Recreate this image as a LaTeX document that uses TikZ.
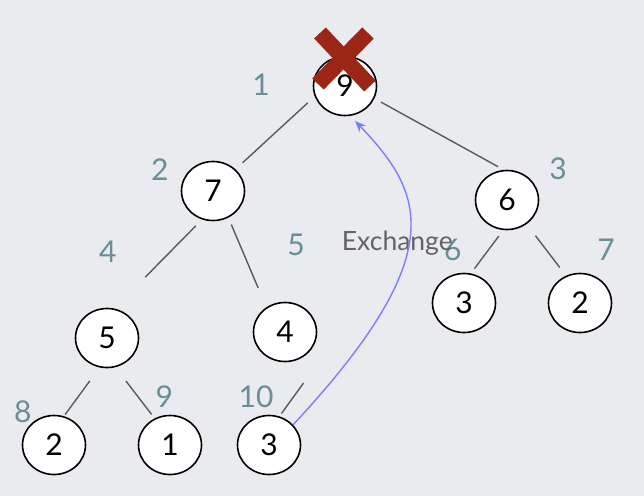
\documentclass[tikz,border=0pt]{standalone}
\usepackage{fontspec}
\setmainfont{Lato}
\usepackage{tikz}
\usetikzlibrary{shapes.geometric,arrows.meta}
\definecolor{indexcolor}{RGB}{106,142,150}
\definecolor{branchcolor}{RGB}{90,90,90}
\definecolor{arrowcolor}{RGB}{125,125,255}
\definecolor{crosscolor}{RGB}{155,38,22}
\definecolor{wordcolor}{RGB}{100,100,100}
\definecolor{backcolor}{RGB}{233,235,239}
\newcommand{\keysize}{\fontsize{30}{36}\selectfont}
\newcommand{\thickness}{1.6pt}
\tikzset{
heapnode/.style={draw, ellipse, fill=white, line width=\thickness, minimum width=63pt, minimum height=59pt, inner sep=0pt, font=\keysize},
heaplabel/.style={text=indexcolor, font=\keysize, inner sep=0pt},
branch/.style={branchcolor, line width=1.4pt},
exchangearrow/.style={arrowcolor, line width=1.4pt, -{Stealth[length=11pt, width=9pt]}, shorten >=7pt}
}

\begin{document}
\begin{tikzpicture}[x=1pt, y=-1pt]
\fill[backcolor] (0,0) rectangle (644,496);
\useasboundingbox (0,0) rectangle (644,496);
\node[heapnode] (1) at (345, 86) {9};
\node[heapnode] (2) at (213, 191) {7};
\node[heapnode] (3) at (507, 200) {6};
\node[heapnode] (4) at (107, 338) {5};
\node[heapnode] (5) at (285, 332) {4};
\node[heapnode] (6) at (464, 303) {3};
\node[heapnode] (7) at (580, 303) {2};
\node[heapnode] (8) at (54, 445) {2};
\node[heapnode] (9) at (170, 445) {1};
\node[heapnode] (10) at (269, 445) {3};
%indices
\node[heaplabel] (l1) at (261, 84.5) {1};
\node[heaplabel] (l2) at (159.7, 169.5) {2};
\node[heaplabel] (l3) at (558, 169) {3};
\node[heaplabel] (l4) at (107.7, 251.7) {4};
\node[heaplabel] (l5) at (296, 245) {5};
\node[heaplabel] (l6) at (452.7, 250) {6};
\node[heaplabel] (l7) at (606, 250) {7};
\node[heaplabel] (l8) at (22.7, 411.7) {8};
\node[heaplabel] (l9) at (164.3, 396.7) {9};
\node[heaplabel] (l10) at (256, 396.7) {10};
%branches
\draw[branch, shorten <=9.4pt, shorten >=9.7pt] (1.199) -- (2.44);
\draw[branch, shorten <=7.4pt, shorten >=6.6pt] (1.337) -- (3.96);
\draw[branch, shorten <=8.8pt, shorten >=44pt] (2.249) -- (4.76);
\draw[branch, shorten <=7.5pt, shorten >=21pt] (2.300) -- (5.127);
\draw[branch, shorten <=7.5pt, shorten >=6pt] (3.263) -- (6.77);
\draw[branch, shorten <=14.6pt, shorten >=10.3pt] (3.309) -- (7.117);
\draw[branch, shorten <=16.6pt, shorten >=2pt] (4.256) -- (8.71);
\draw[branch, shorten <=17.3pt, shorten >=5pt] (4.286) -- (9.120);
\draw[branch, shorten <=30pt, shorten >=3.5pt] ([xshift=20.8pt]5.300) -- (10.70);
%exchange
\node[text=wordcolor, font=\fontsize{26.5}{32}\selectfont, inner sep=0pt, anchor=base west] (exchange) at (341.7, 250) {Exchange};
\draw[exchangearrow] (10.40) .. controls (454, 252) and (423, 192) .. (1.280);
%removed root
\draw[crosscolor, line width=16pt] (320, 33) -- (370, 86);
\draw[crosscolor, line width=16pt] (368, 33) -- (318, 84);
\end{tikzpicture}
\end{document}
